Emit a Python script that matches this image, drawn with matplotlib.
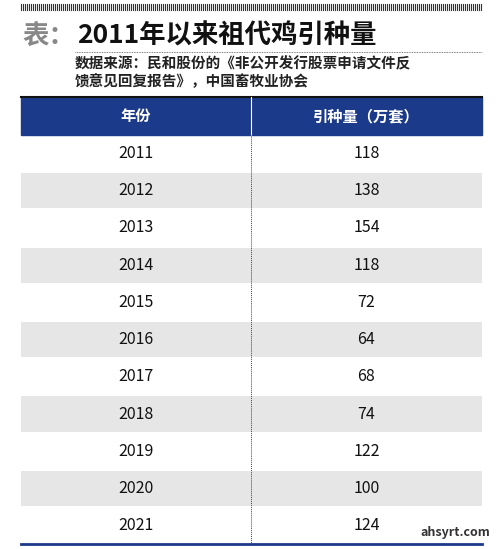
import matplotlib
matplotlib.use("Agg")
import matplotlib.pyplot as plt
from matplotlib.patches import Rectangle

plt.rcParams['font.family'] = ['Noto Sans CJK SC', 'DejaVu Sans']

years = ["2011","2012","2013","2014","2015","2016","2017","2018","2019","2020","2021"]
values = [118,138,154,118,72,64,68,74,122,100,124]
col_labels = ["年份", "引种量（万套）"]
title = "2011年以来祖代鸡引种量"
source_lines = ["数据来源：民和股份的《非公开发行股票申请文件反", "馈意见回复报告》，中国畜牧业协会"]

W, H = 500, 549
fig = plt.figure(figsize=(W/100, H/100), dpi=100)
ax = fig.add_axes([0, 0, 1, 1])
ax.set_xlim(0, W); ax.set_ylim(H, 0); ax.axis('off')

L, R, MID = 21, 482, 251
# top hatched bar
for x in range(L, R, 2):
    ax.plot([x, x], [4, 10], color='#333333', lw=0.8)
ax.text(22, 36, "表：", fontsize=19, color='#888888', fontweight='bold', va='center')
ax.text(77, 36, title, fontsize=19, color='#111111', fontweight='bold', va='center')
ax.plot([75, R], [52, 52], color='#555555', lw=0.6, ls=(0, (1, 1)))
for i, s in enumerate(source_lines):
    ax.text(75, 63 + i*18, s, fontsize=10.5, color='#222222', fontweight='bold', va='center')

# header
top, hh = 97, 38
ax.add_patch(Rectangle((L, top), R-L, hh, color='#1c3a8a'))
ax.plot([L, R], [top, top], color='#111111', lw=1.5)
ax.text((L+MID)/2, top+hh/2, col_labels[0], color='white', fontsize=11, fontweight='bold', ha='center', va='center')
ax.text((MID+R)/2, top+hh/2, col_labels[1], color='white', fontsize=11, fontweight='bold', ha='center', va='center')
ax.plot([MID, MID], [top, top+hh], color='white', lw=0.8)

rh = 37.2
y0 = top + hh
for i, (yr, v) in enumerate(zip(years, values)):
    y = y0 + i*rh
    if i % 2 == 1:
        ax.add_patch(Rectangle((L, y+1), R-L, rh-2, color='#e6e6e6', lw=0))
    ax.text((L+MID)/2, y+rh/2, yr, fontsize=11.5, color='#111111', ha='center', va='center')
    ax.text((MID+R)/2, y+rh/2, str(v), fontsize=11.5, color='#111111', ha='center', va='center')
end = y0 + len(years)*rh
ax.plot([MID, MID], [y0, end], color='#444444', lw=0.7, ls=(0, (1, 1)))
ax.plot([L, R], [end, end], color='#1c3a8a', lw=2)
ax.text(490, end-12, "ahsyrt.com", fontsize=9, color='#333333', ha='right', va='center', fontweight='bold')

fig.savefig("out.png", dpi=100)
